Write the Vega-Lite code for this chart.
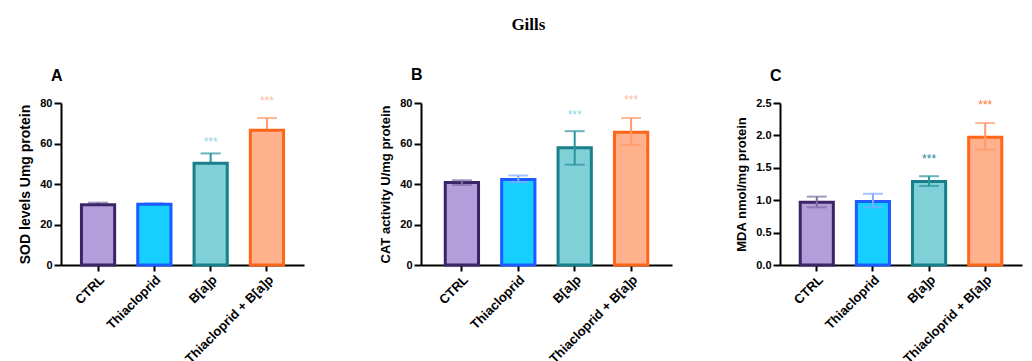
{
  "$schema": "https://vega.github.io/schema/vega-lite/v6.json",
  "padding": {"left": 18, "top": 15, "right": 5, "bottom": 0},
  "background": "white",
  "title": {"text": "Gills", "font": "Liberation Serif", "fontSize": 17, "fontWeight": "bold", "color": "black", "anchor": "middle", "frame": "bounds", "dx": 8, "offset": 33},
  "config": {
    "view": {"stroke": null},
    "axis": {"domainColor": "black", "domainWidth": 2, "tickColor": "black", "tickWidth": 2, "tickSize": 7, "labelFont": "Liberation Sans", "labelFontWeight": "bold", "labelFontSize": 11, "labelColor": "black", "titleFont": "Liberation Sans", "titleFontWeight": "bold", "titleFontSize": 13, "titleColor": "black", "grid": false, "labelPadding": 2, "titlePadding": 7},
    "axisX": {"labelAngle": -45, "tickSize": 6, "labelFontSize": 13},
    "title": {"font": "Liberation Sans", "fontSize": 16, "fontWeight": "bold", "color": "black", "anchor": "start", "frame": "group", "dx": -10, "offset": 11}
  },
  "datasets": {
    "gills": [
      {"panel": "A", "group": "CTRL", "mean": 29.7, "lo": 28.6, "hi": 30.8},
      {"panel": "A", "group": "Thiacloprid", "mean": 30.0, "lo": 29.5, "hi": 30.5},
      {"panel": "A", "group": "B[a]p", "mean": 50.3, "lo": 45.5, "hi": 55.1},
      {"panel": "A", "group": "Thiacloprid + B[a]p", "mean": 66.6, "lo": 60.6, "hi": 72.6},
      {"panel": "B", "group": "CTRL", "mean": 40.7, "lo": 39.5, "hi": 41.9},
      {"panel": "B", "group": "Thiacloprid", "mean": 42.2, "lo": 40.9, "hi": 44.2},
      {"panel": "B", "group": "B[a]p", "mean": 57.9, "lo": 49.5, "hi": 66.1},
      {"panel": "B", "group": "Thiacloprid + B[a]p", "mean": 65.5, "lo": 59.2, "hi": 72.6},
      {"panel": "C", "group": "CTRL", "mean": 0.97, "lo": 0.89, "hi": 1.055},
      {"panel": "C", "group": "Thiacloprid", "mean": 0.98, "lo": 0.89, "hi": 1.1},
      {"panel": "C", "group": "B[a]p", "mean": 1.29, "lo": 1.22, "hi": 1.37},
      {"panel": "C", "group": "Thiacloprid + B[a]p", "mean": 1.97, "lo": 1.78, "hi": 2.19}
    ],
    "stars": [
      {"panel": "A", "group": "B[a]p", "y": 62, "label": "***"},
      {"panel": "A", "group": "Thiacloprid + B[a]p", "y": 82.3, "label": "***"},
      {"panel": "B", "group": "B[a]p", "y": 75.8, "label": "***"},
      {"panel": "B", "group": "Thiacloprid + B[a]p", "y": 83, "label": "***"},
      {"panel": "C", "group": "B[a]p", "y": 1.675, "label": "***"},
      {"panel": "C", "group": "Thiacloprid + B[a]p", "y": 2.51, "label": "***"}
    ]
  },
  "spacing": 75,
  "hconcat": [
    {
      "width": 243, "height": 162,
      "title": "A",
      "data": {"name": "gills"},
      "transform": [{"filter": "datum.panel == 'A'"}],
      "encoding": {
        "x": {"field": "group", "type": "nominal", "title": null, "sort": null,
              "scale": {"domain": ["CTRL", "Thiacloprid", "B[a]p", "Thiacloprid + B[a]p"], "paddingInner": 0.41, "paddingOuter": 0.363}}
      },
      "layer": [
        {"mark": {"type": "rule", "strokeWidth": 2},
         "encoding": {"y": {"field": "lo", "type": "quantitative", "scale": {"domain": [0, 80]}, "title": "SOD levels Umg protein", "axis": {"values": [0, 20, 40, 60, 80], "titleFontSize": 14}}, "y2": {"field": "hi"},
                      "color": {"field": "group", "type": "nominal", "legend": null, "scale": {"domain": ["CTRL", "Thiacloprid", "B[a]p", "Thiacloprid + B[a]p"], "range": ["#7d6e9e", "#7faaff", "#2a949e", "#ff9a6a"]}}}},
        {"mark": {"type": "tick", "size": 20, "thickness": 2},
         "encoding": {"y": {"field": "hi", "type": "quantitative", "scale": {"domain": [0, 80]}, "title": "SOD levels Umg protein", "axis": {"values": [0, 20, 40, 60, 80], "titleFontSize": 14}},
                      "color": {"field": "group", "type": "nominal", "legend": null}}},
        {"mark": {"type": "bar", "strokeWidth": 3},
         "encoding": {"y": {"field": "mean", "type": "quantitative", "scale": {"domain": [0, 80]}, "title": "SOD levels Umg protein", "axis": {"values": [0, 20, 40, 60, 80], "titleFontSize": 14}},
                      "fill": {"field": "group", "type": "nominal", "legend": null, "scale": {"domain": ["CTRL", "Thiacloprid", "B[a]p", "Thiacloprid + B[a]p"], "range": ["#b39ddb", "#17cfff", "#80d0d8", "#ffb08c"]}},
                      "stroke": {"field": "group", "type": "nominal", "legend": null, "scale": {"domain": ["CTRL", "Thiacloprid", "B[a]p", "Thiacloprid + B[a]p"], "range": ["#3b2566", "#1a5cff", "#17808a", "#ff6619"]}}}},
        {"data": {"name": "stars"}, "transform": [{"filter": "datum.panel == 'A' && datum.group == 'B[a]p'"}],
         "mark": {"type": "text", "fontSize": 12, "font": "Liberation Sans", "baseline": "alphabetic", "dy": 7, "color": "#8fd8e6"},
         "encoding": {"y": {"field": "y", "type": "quantitative", "scale": {"domain": [0, 80]}, "title": "SOD levels Umg protein", "axis": {"values": [0, 20, 40, 60, 80], "titleFontSize": 14}}, "text": {"field": "label"}}},
        {"data": {"name": "stars"}, "transform": [{"filter": "datum.panel == 'A' && datum.group == 'Thiacloprid + B[a]p'"}],
         "mark": {"type": "text", "fontSize": 12, "font": "Liberation Sans", "baseline": "alphabetic", "dy": 7, "color": "#ffbaa0"},
         "encoding": {"y": {"field": "y", "type": "quantitative", "scale": {"domain": [0, 80]}, "title": "SOD levels Umg protein", "axis": {"values": [0, 20, 40, 60, 80], "titleFontSize": 14}}, "text": {"field": "label"}}}
      ]
    },
    {
      "spacing": 63,
      "hconcat": [
        {
          "width": 251, "height": 162,
          "title": "B",
          "data": {"name": "gills"},
          "transform": [{"filter": "datum.panel == 'B'"}],
          "encoding": {
            "x": {"field": "group", "type": "nominal", "title": null, "sort": null,
                  "scale": {"domain": ["CTRL", "Thiacloprid", "B[a]p", "Thiacloprid + B[a]p"], "paddingInner": 0.41, "paddingOuter": 0.43}}
          },
          "layer": [
            {"mark": {"type": "bar", "strokeWidth": 3},
             "encoding": {"y": {"field": "mean", "type": "quantitative", "scale": {"domain": [0, 80]}, "title": "CAT activity U/mg protein", "axis": {"values": [0, 20, 40, 60, 80]}},
                          "fill": {"field": "group", "type": "nominal", "legend": null, "scale": {"domain": ["CTRL", "Thiacloprid", "B[a]p", "Thiacloprid + B[a]p"], "range": ["#b39ddb", "#17cfff", "#80d0d8", "#ffb08c"]}},
                          "stroke": {"field": "group", "type": "nominal", "legend": null, "scale": {"domain": ["CTRL", "Thiacloprid", "B[a]p", "Thiacloprid + B[a]p"], "range": ["#3b2566", "#1a5cff", "#17808a", "#ff6619"]}}}},
            {"mark": {"type": "rule", "strokeWidth": 2},
             "encoding": {"y": {"field": "lo", "type": "quantitative", "scale": {"domain": [0, 80]}, "title": "CAT activity U/mg protein", "axis": {"values": [0, 20, 40, 60, 80]}}, "y2": {"field": "hi"},
                          "color": {"field": "group", "type": "nominal", "legend": null, "scale": {"domain": ["CTRL", "Thiacloprid", "B[a]p", "Thiacloprid + B[a]p"], "range": ["#7d6e9e", "#7faaff", "#2a949e", "#ff9a6a"]}}}},
            {"mark": {"type": "tick", "size": 20, "thickness": 2},
             "encoding": {"y": {"field": "hi", "type": "quantitative", "scale": {"domain": [0, 80]}, "title": "CAT activity U/mg protein", "axis": {"values": [0, 20, 40, 60, 80]}},
                          "color": {"field": "group", "type": "nominal", "legend": null}}},
            {"mark": {"type": "tick", "size": 20, "thickness": 2},
             "encoding": {"y": {"field": "lo", "type": "quantitative", "scale": {"domain": [0, 80]}, "title": "CAT activity U/mg protein", "axis": {"values": [0, 20, 40, 60, 80]}},
                          "color": {"field": "group", "type": "nominal", "legend": null}}},
            {"data": {"name": "stars"}, "transform": [{"filter": "datum.panel == 'B' && datum.group == 'B[a]p'"}],
             "mark": {"type": "text", "fontSize": 12, "font": "Liberation Sans", "baseline": "alphabetic", "dy": 7, "color": "#8fd8e6"},
             "encoding": {"y": {"field": "y", "type": "quantitative", "scale": {"domain": [0, 80]}, "title": "CAT activity U/mg protein", "axis": {"values": [0, 20, 40, 60, 80]}}, "text": {"field": "label"}}},
            {"data": {"name": "stars"}, "transform": [{"filter": "datum.panel == 'B' && datum.group == 'Thiacloprid + B[a]p'"}],
             "mark": {"type": "text", "fontSize": 12, "font": "Liberation Sans", "baseline": "alphabetic", "dy": 7, "color": "#ffbaa0"},
             "encoding": {"y": {"field": "y", "type": "quantitative", "scale": {"domain": [0, 80]}, "title": "CAT activity U/mg protein", "axis": {"values": [0, 20, 40, 60, 80]}}, "text": {"field": "label"}}}
          ]
        },
        {
          "width": 242, "height": 162,
          "title": {"text": "C", "offset": 13},
          "data": {"name": "gills"},
          "transform": [{"filter": "datum.panel == 'C'"}],
          "encoding": {
            "x": {"field": "group", "type": "nominal", "title": null, "sort": null,
                  "scale": {"domain": ["CTRL", "Thiacloprid", "B[a]p", "Thiacloprid + B[a]p"], "paddingInner": 0.41, "paddingOuter": 0.36}}
          },
          "layer": [
            {"mark": {"type": "bar", "strokeWidth": 3},
             "encoding": {"y": {"field": "mean", "type": "quantitative", "scale": {"domain": [0, 2.5]}, "title": "MDA nmol/mg protein", "axis": {"values": [0, 0.5, 1, 1.5, 2, 2.5], "format": ".1f"}},
                          "fill": {"field": "group", "type": "nominal", "legend": null, "scale": {"domain": ["CTRL", "Thiacloprid", "B[a]p", "Thiacloprid + B[a]p"], "range": ["#b39ddb", "#17cfff", "#80d0d8", "#ffb08c"]}},
                          "stroke": {"field": "group", "type": "nominal", "legend": null, "scale": {"domain": ["CTRL", "Thiacloprid", "B[a]p", "Thiacloprid + B[a]p"], "range": ["#3b2566", "#1a5cff", "#17808a", "#ff6619"]}}}},
            {"mark": {"type": "rule", "strokeWidth": 2},
             "encoding": {"y": {"field": "lo", "type": "quantitative", "scale": {"domain": [0, 2.5]}, "title": "MDA nmol/mg protein", "axis": {"values": [0, 0.5, 1, 1.5, 2, 2.5], "format": ".1f"}}, "y2": {"field": "hi"},
                          "color": {"field": "group", "type": "nominal", "legend": null, "scale": {"domain": ["CTRL", "Thiacloprid", "B[a]p", "Thiacloprid + B[a]p"], "range": ["#7d6e9e", "#7faaff", "#2a949e", "#ff9a6a"]}}}},
            {"mark": {"type": "tick", "size": 20, "thickness": 2},
             "encoding": {"y": {"field": "hi", "type": "quantitative", "scale": {"domain": [0, 2.5]}, "title": "MDA nmol/mg protein", "axis": {"values": [0, 0.5, 1, 1.5, 2, 2.5], "format": ".1f"}},
                          "color": {"field": "group", "type": "nominal", "legend": null}}},
            {"mark": {"type": "tick", "size": 20, "thickness": 2},
             "encoding": {"y": {"field": "lo", "type": "quantitative", "scale": {"domain": [0, 2.5]}, "title": "MDA nmol/mg protein", "axis": {"values": [0, 0.5, 1, 1.5, 2, 2.5], "format": ".1f"}},
                          "color": {"field": "group", "type": "nominal", "legend": null}}},
            {"data": {"name": "stars"}, "transform": [{"filter": "datum.panel == 'C' && datum.group == 'B[a]p'"}],
             "mark": {"type": "text", "fontSize": 12, "font": "Liberation Sans", "baseline": "alphabetic", "dy": 7, "color": "#1f8a95"},
             "encoding": {"y": {"field": "y", "type": "quantitative", "scale": {"domain": [0, 2.5]}, "title": "MDA nmol/mg protein", "axis": {"values": [0, 0.5, 1, 1.5, 2, 2.5], "format": ".1f"}}, "text": {"field": "label"}}},
            {"data": {"name": "stars"}, "transform": [{"filter": "datum.panel == 'C' && datum.group == 'Thiacloprid + B[a]p'"}],
             "mark": {"type": "text", "fontSize": 12, "font": "Liberation Sans", "baseline": "alphabetic", "dy": 7, "color": "#ff7a30"},
             "encoding": {"y": {"field": "y", "type": "quantitative", "scale": {"domain": [0, 2.5]}, "title": "MDA nmol/mg protein", "axis": {"values": [0, 0.5, 1, 1.5, 2, 2.5], "format": ".1f"}}, "text": {"field": "label"}}}
          ]
        }
      ]
    }
  ]
}
